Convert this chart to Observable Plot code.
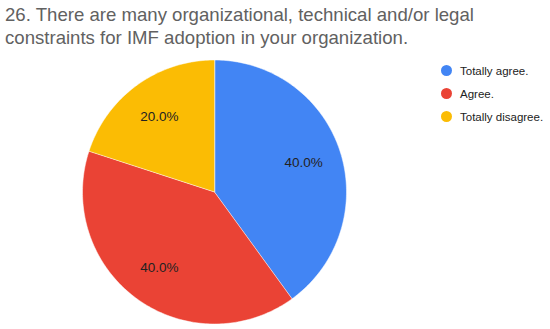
<!DOCTYPE html>
<html>
<head>
<meta charset="utf-8">
<script src="https://cdn.jsdelivr.net/npm/d3@7"></script>
<script src="https://cdn.jsdelivr.net/npm/@observablehq/plot@0.6"></script>
<style>
  body { margin: 0; background: #fff; font-family: "Liberation Sans", Arial, sans-serif; }
  #wrap { position: relative; width: 550px; height: 329px; overflow: hidden; background: #fff; }
  #title { position: absolute; left: 5px; top: 3px; font-size: 18.6px; line-height: 23px; color: #616161; width: 545px; white-space: nowrap; }
  #chart { position: absolute; left: 0; top: 56px; }
  #legend { position: absolute; left: 441px; top: 59px; font-size: 11.5px; color: #222; }
  .item { display: flex; align-items: center; height: 23px; }
  .dot { width: 11px; height: 11px; border-radius: 50%; margin-right: 8px; }
</style>
</head>
<body>
<div id="wrap">
  <div id="title">26. There are many organizational, technical and/or legal<br>constraints for IMF adoption in your organization.</div>
  <div id="chart"></div>
  <div id="legend"></div>
</div>
<script>
const categories = ["Totally agree.", "Agree.", "Totally disagree."];
const values = [40, 40, 20];
const colors = ["#4285F4", "#EA4335", "#FBBC04"];
const labels = ["40.0%", "40.0%", "20.0%"];

const total = d3.sum(values);
// Build slice polygons (clockwise from 12 o'clock) in unit-circle coordinates (y down)
const pt = (a, r = 1) => [r * Math.sin(a), -r * Math.cos(a)];
let acc = 0;
const slices = categories.map((name, i) => {
  const a0 = (acc / total) * 2 * Math.PI;
  acc += values[i];
  const a1 = (acc / total) * 2 * Math.PI;
  const steps = Math.max(2, Math.ceil((a1 - a0) / (Math.PI / 180)));
  const ring = [[0, 0]];
  for (let s = 0; s <= steps; s++) ring.push(pt(a0 + (a1 - a0) * s / steps));
  ring.push([0, 0]);
  const mid = (a0 + a1) / 2;
  const [lx, ly] = pt(mid, 0.71);
  return {
    type: "Feature",
    properties: {name, label: labels[i], lx, ly},
    geometry: {type: "Polygon", coordinates: [ring]}
  };
});
const circle = {type: "Polygon", coordinates: [d3.range(0, 361, 2).map(d => pt(d * Math.PI / 180))]};

const W = 550, H = 273;
const plot = Plot.plot({
  width: W,
  height: H,
  marginLeft: 82,
  marginRight: 204,
  marginTop: 3.5,
  marginBottom: 5.5,
  projection: {type: "identity", domain: circle},
  color: {domain: categories, range: colors},
  style: {fontFamily: "Liberation Sans, Arial, sans-serif", background: "white"},
  marks: [
    Plot.geo(slices, {fill: d => d.properties.name, stroke: "white", strokeWidth: 0.5}),
    Plot.text(slices, {
      x: d => d.properties.lx,
      y: d => d.properties.ly,
      text: d => d.properties.label,
      fontSize: 13.5,
      fill: "#222"
    })
  ]
});
document.getElementById("chart").appendChild(plot);

const legend = document.getElementById("legend");
categories.forEach((c, i) => {
  const item = document.createElement("div");
  item.className = "item";
  const dot = document.createElement("div");
  dot.className = "dot";
  dot.style.background = colors[i];
  const t = document.createElement("span");
  t.textContent = c;
  item.appendChild(dot);
  item.appendChild(t);
  legend.appendChild(item);
});
</script>
</body>
</html>
